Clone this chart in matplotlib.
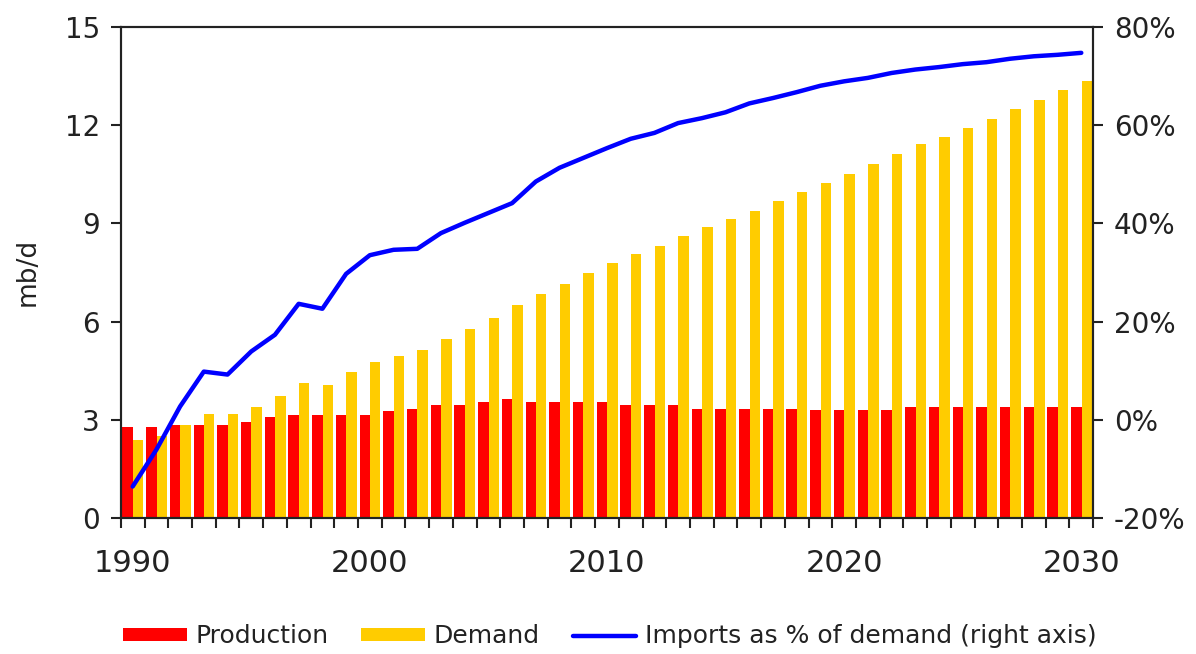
import numpy as np
import matplotlib.pyplot as plt
from matplotlib.ticker import FixedLocator

years = list(range(1990, 2031))

production = [2.79, 2.79, 2.84, 2.85, 2.85, 2.94, 3.09, 3.13, 3.13, 3.13,
              3.13, 3.27, 3.33, 3.45, 3.45, 3.55, 3.63, 3.55, 3.55, 3.55,
              3.55, 3.45, 3.45, 3.45, 3.34, 3.34, 3.34, 3.34, 3.34, 3.29,
              3.29, 3.30, 3.31, 3.39, 3.39, 3.39, 3.39, 3.39, 3.39, 3.39,
              3.39]

demand = [2.38, 2.50, 2.84, 3.18, 3.18, 3.40, 3.74, 4.12, 4.07, 4.47,
          4.75, 4.95, 5.13, 5.47, 5.77, 6.12, 6.51, 6.84, 7.14, 7.48,
          7.78, 8.07, 8.31, 8.60, 8.90, 9.12, 9.39, 9.69, 9.95, 10.23,
          10.51, 10.82, 11.13, 11.41, 11.64, 11.90, 12.19, 12.49, 12.78, 13.06,
          13.35]

imports_pct = [-13.6, -6.1, 2.7, 9.8, 9.2, 13.9, 17.3, 23.6, 22.6, 29.7,
               33.5, 34.6, 34.8, 38.0, 40.1, 42.1, 44.1, 48.5, 51.3, 53.3,
               55.3, 57.2, 58.4, 60.4, 61.4, 62.6, 64.4, 65.5, 66.7, 68.0,
               68.9, 69.6, 70.6, 71.3, 71.8, 72.4, 72.8, 73.5, 74.0, 74.3,
               74.7]

left_ticks = [0, 3, 6, 9, 12, 15]
right_ticks = [-20, 0, 20, 40, 60, 80]
label_years = [1990, 2000, 2010, 2020, 2030]

txt = "#222222"
x = np.arange(len(years))

fig = plt.figure(figsize=(11.96, 6.54), dpi=100)
ax = fig.add_axes([0.101, 0.208, 0.813, 0.751])

ax.bar(x - 0.21, production, width=0.44, color="#FF0000", label="Production", zorder=2)
ax.bar(x + 0.23, demand, width=0.44, color="#FFCC00", label="Demand", zorder=2)

ax.set_xlim(-0.5, len(years) - 0.5)
ax.set_ylim(0, 15)
ax.set_yticks(left_ticks)
ax.set_ylabel("mb/d", fontsize=19, color=txt, labelpad=17)

ax.set_xticks([years.index(y) for y in label_years])
ax.set_xticklabels([str(y) for y in label_years])
ax.xaxis.set_minor_locator(FixedLocator(np.arange(-0.5, len(years), 1.0)))
ax.tick_params(axis="x", which="major", length=0, pad=22, labelsize=22, labelcolor=txt)
ax.tick_params(axis="x", which="minor", length=7, width=1.5, direction="out", color="#222222")
ax.tick_params(axis="y", length=7, width=1.5, direction="out", labelsize=20,
               labelcolor=txt, color="#222222", pad=8)

for s in ax.spines.values():
    s.set_linewidth(1.5)
    s.set_color("#222222")

ax2 = ax.twinx()
ax2.plot(x, imports_pct, color="#0000FF", linewidth=3.2,
         label="Imports as % of demand (right axis)", zorder=3, solid_capstyle="round")
ax2.set_ylim(-20, 80)
ax2.set_yticks(right_ticks)
ax2.set_yticklabels([f"{v}%" for v in right_ticks])
ax2.tick_params(axis="y", length=7, width=1.5, direction="out", labelsize=20,
                labelcolor=txt, color="#222222", pad=8)
for s in ax2.spines.values():
    s.set_linewidth(1.5)
    s.set_color("#222222")

h1, l1 = ax.get_legend_handles_labels()
h2, l2 = ax2.get_legend_handles_labels()
leg = fig.legend(h1 + h2, l1 + l2, loc="center", bbox_to_anchor=(0.51, 0.027),
                 ncol=3, frameon=False, handlelength=2.55, handleheight=0.45,
                 columnspacing=1.3, handletextpad=0.35, fontsize=18)
for t in leg.get_texts():
    t.set_color(txt)

fig.savefig("out.png", dpi=100)
